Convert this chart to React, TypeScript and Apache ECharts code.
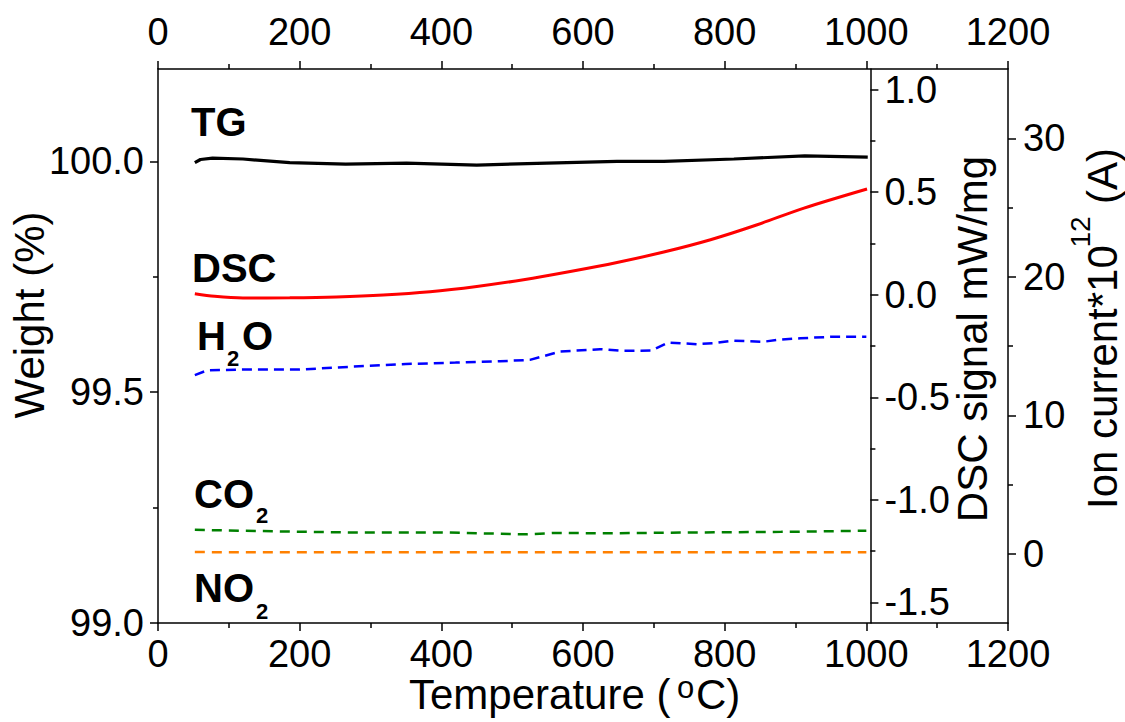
import { useEffect, useRef } from "react";
import * as echarts from "echarts";

const FONT = "'Liberation Sans', Arial, Helvetica, sans-serif";

// TG curve: weight (%) vs temperature (°C)
const tgTemp = [52, 60, 77, 120, 186, 265, 351, 450, 549, 648, 714, 813, 913, 1002];
const tgWeight = [99.997, 100.004, 100.007, 100.005, 99.997, 99.994, 99.996, 99.992, 99.996, 100.0, 100.0, 100.005, 100.012, 100.009];

// DSC signal (mW/mg)
const dscTemp = [52, 80, 120, 186, 252, 318, 384, 450, 516, 582, 648, 714, 780, 846, 912, 1001];
const dscSignal = [0.005, -0.008, -0.016, -0.015, -0.011, -0.002, 0.014, 0.04, 0.073, 0.113, 0.157, 0.208, 0.268, 0.341, 0.422, 0.515];

// Ion currents (×10^12 A)
const h2oTemp = [52, 70, 120, 200, 271, 350, 420, 483, 525, 568, 624, 657, 697, 720, 761, 784, 812, 854, 874, 907, 949, 1000];
const h2oCurrent = [12.9, 13.25, 13.3, 13.3, 13.5, 13.7, 13.8, 13.9, 14.0, 14.6, 14.77, 14.65, 14.67, 15.25, 15.13, 15.2, 15.39, 15.3, 15.44, 15.56, 15.66, 15.66];

const co2Temp = [52, 100, 176, 271, 402, 460, 520, 560, 640, 720, 800, 880, 1000];
const co2Current = [1.73, 1.68, 1.61, 1.54, 1.54, 1.47, 1.4, 1.5, 1.48, 1.52, 1.55, 1.58, 1.66];

const no2Temp = [52, 200, 400, 600, 800, 1000];
const no2Current = [0.12, 0.1, 0.1, 0.1, 0.1, 0.1];

// Axis tick values
const weightTicks = [99.0, 99.5, 100.0];
const weightMinor = [99.25, 99.75];
const dscTicks = [-1.5, -1.0, -0.5, 0.0, 0.5, 1.0];
const dscMinor = [-1.25, -0.75, -0.25, 0.25, 0.75];
const ionTicks = [0, 10, 20, 30];
const ionMinor = [5, 15, 25];

const pairs = (xs: number[], ys: number[]) => xs.map((x, i) => [x, ys[i]]);

export default function App() {
  const ref = useRef<HTMLDivElement>(null);

  useEffect(() => {
    const chart = echarts.init(ref.current!, null, { renderer: "svg" });
    const black = { color: "#000", width: 1.5 };
    const label = { color: "#000", fontSize: 38, fontFamily: FONT };

    const xAxis = (position: string, margin: number) => ({
      type: "value",
      position,
      min: 0,
      max: 1200,
      interval: 200,
      axisLine: { show: true, onZero: false, lineStyle: black },
      axisTick: { show: true, inside: false, length: 8, lineStyle: black },
      minorTick: { show: true, splitNumber: 2, length: 5, lineStyle: black },
      axisLabel: { ...label, margin, formatter: (v: number) => String(v) },
      splitLine: { show: false },
      minorSplitLine: { show: false },
    });

    const yMajor = (
      position: string,
      offset: number,
      min: number,
      max: number,
      values: number[],
      margin: number,
      digits: number
    ) => ({
      type: "value",
      position,
      offset,
      min,
      max,
      axisLine: { show: true, onZero: false, lineStyle: black },
      axisTick: { show: true, inside: false, length: 8, customValues: values, lineStyle: black },
      axisLabel: {
        ...label,
        margin,
        customValues: values,
        formatter: (v: number) => v.toFixed(digits),
      },
      splitLine: { show: false },
    });

    const yMinor = (position: string, offset: number, min: number, max: number, values: number[]) => ({
      type: "value",
      position,
      offset,
      min,
      max,
      axisLine: { show: false, onZero: false },
      axisTick: { show: true, inside: false, length: 5, customValues: values, lineStyle: black },
      axisLabel: { show: false },
      splitLine: { show: false },
    });

    const dscOffset = -137.6;

    const txt = (
      text: string,
      x: number,
      y: number,
      size: number,
      opts: { bold?: boolean; align?: string; rotate?: boolean } = {}
    ) => ({
      type: "text",
      x,
      y,
      rotation: opts.rotate ? Math.PI / 2 : 0,
      z: 100,
      style: {
        text,
        fill: "#000",
        font: `${opts.bold ? "bold " : ""}${size}px ${FONT}`,
        lineHeight: Math.round(size * 0.72),
        textAlign: opts.align || "left",
        textVerticalAlign: "middle",
      },
    });

    chart.setOption({
      animation: false,
      backgroundColor: "#fff",
      grid: {
        left: 158,
        right: 117,
        top: 69,
        bottom: 99,
        containLabel: false,
        outerBoundsMode: "none",
      },
      xAxis: [xAxis("bottom", 12), xAxis("top", 18)],
      yAxis: [
        yMajor("left", 0, 99.0, 100.2, weightTicks, 14, 1),
        yMinor("left", 0, 99.0, 100.2, weightMinor),
        yMajor("right", dscOffset, -1.6, 1.1, dscTicks, 14, 1),
        yMinor("right", dscOffset, -1.6, 1.1, dscMinor),
        yMajor("right", 0, -5, 35, ionTicks, 15, 0),
        yMinor("right", 0, -5, 35, ionMinor),
      ],
      series: [
        {
          name: "TG",
          type: "line",
          xAxisIndex: 0,
          yAxisIndex: 0,
          data: pairs(tgTemp, tgWeight),
          symbol: "none",
          lineStyle: { color: "#000", width: 3.2 },
          itemStyle: { color: "#000" },
          z: 5,
        },
        {
          name: "DSC",
          type: "line",
          xAxisIndex: 0,
          yAxisIndex: 2,
          data: pairs(dscTemp, dscSignal),
          symbol: "none",
          smooth: 0.3,
          lineStyle: { color: "#ff0000", width: 3 },
          itemStyle: { color: "#ff0000" },
          z: 5,
        },
        {
          name: "H2O",
          type: "line",
          xAxisIndex: 0,
          yAxisIndex: 4,
          data: pairs(h2oTemp, h2oCurrent),
          symbol: "none",
          lineStyle: { color: "#0000ff", width: 2.5, type: [10, 6] },
          itemStyle: { color: "#0000ff" },
        },
        {
          name: "CO2",
          type: "line",
          xAxisIndex: 0,
          yAxisIndex: 4,
          data: pairs(co2Temp, co2Current),
          symbol: "none",
          lineStyle: { color: "#008000", width: 2.5, type: [10, 7] },
          itemStyle: { color: "#008000" },
        },
        {
          name: "NO2",
          type: "line",
          xAxisIndex: 0,
          yAxisIndex: 4,
          data: pairs(no2Temp, no2Current),
          symbol: "none",
          lineStyle: { color: "#ff8000", width: 2.5, type: [10, 7] },
          itemStyle: { color: "#ff8000" },
        },
      ],
      graphic: [
        // series labels
        txt("TG", 191, 122.1, 40, { bold: true }),
        txt("DSC", 192, 267.8, 40, { bold: true }),
        txt("H", 197, 336.1, 40, { bold: true }),
        txt("2", 227, 358.4, 22, { bold: true }),
        txt("O", 242, 336.1, 40, { bold: true }),
        txt("CO", 194, 493.8, 40, { bold: true }),
        txt("2", 256, 515.7, 22, { bold: true }),
        txt("NO", 194, 588.1, 40, { bold: true }),
        txt("2", 256, 611.7, 22, { bold: true }),
        // axis titles
        txt("Weight (%)", 29.5, 315, 42, { align: "center", rotate: true }),
        txt("Temperature (", 409, 694.5, 42),
        txt("o", 677, 687, 31),
        txt("C)", 696, 694.5, 42),
        txt("DSC signal mW/mg", 972, 339, 42, { align: "center", rotate: true }),
        txt("Ion current*10", 1102, 509, 42, { rotate: true }),
        txt("12", 1080, 232, 28, { align: "center", rotate: true }),
        txt("(A)", 1102, 148, 42, { align: "right", rotate: true }),
      ],
    });

    return () => chart.dispose();
  }, []);

  return (
    <div
      ref={ref}
      style={{ position: "fixed", left: 0, top: 0, width: 1125, height: 722, background: "#fff" }}
    />
  );
}
